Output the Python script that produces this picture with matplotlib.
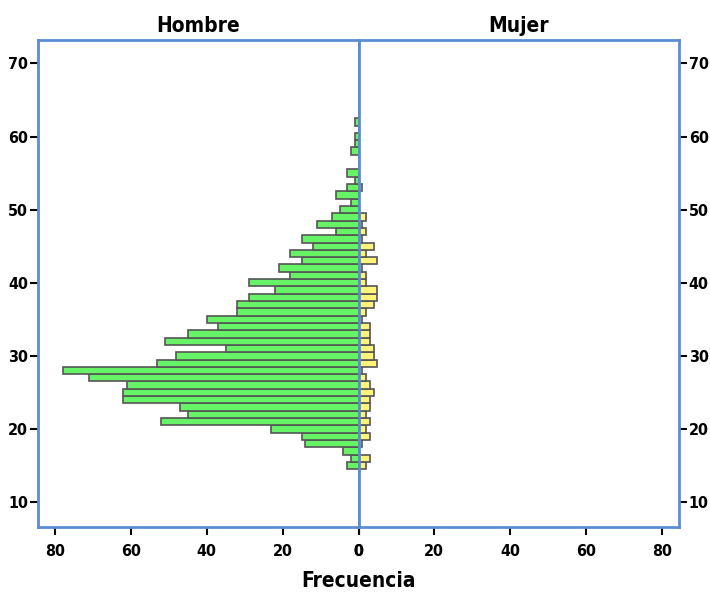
import matplotlib
matplotlib.use("Agg")
import matplotlib.pyplot as plt
import numpy as np

plt.rcParams['font.family'] = ['DejaVu Sans']
plt.rcParams['font.stretch'] = 'condensed'

# Age (one-year bins)
ages = list(range(15, 63))
# Frequencies, ages 15..62
hombre = [3, 2, 4, 14, 15, 23, 52, 45, 47, 62,
          62, 61, 71, 78, 53, 48, 35, 51, 45, 37,
          40, 32, 32, 29, 22, 29, 18, 21, 15, 18,
          12, 15, 6, 11, 7, 5, 2, 6, 3, 1,
          3, 0, 0, 2, 1, 1, 0, 1]
mujer = [2, 3, 0, 1, 3, 2, 3, 2, 3, 3,
         4, 3, 2, 1, 5, 4, 4, 3, 3, 3,
         1, 2, 4, 5, 5, 2, 2, 1, 5, 2,
         4, 1, 2, 1, 2, 0, 0, 0, 1, 0,
         0, 0, 0, 0, 0, 0, 0, 0]
panel_titles = ["Hombre", "Mujer"]
x_ticks = [0, 20, 40, 60, 80]
y_ticks = [10, 20, 30, 40, 50, 60, 70]
x_label = "Frecuencia"

green = "#66F466"
yellow = "#FFF47A"
edge = "#555555"
blue = "#5B8DD3"

fig = plt.figure(figsize=(7.10, 5.93), dpi=100)
L, R, B, T = 38/710, 679/710, 1-527/593, 1-40/593
mid = 358.5/710
axL = fig.add_axes([L, B, mid-L, T-B])
axR = fig.add_axes([mid, B, R-mid, T-B], sharey=axL)

xmax = 84.5
axL.barh(ages, hombre, height=1.0, color=green, edgecolor=edge, linewidth=1.2, zorder=2)
axR.barh(ages, mujer, height=1.0, color=yellow, edgecolor=edge, linewidth=1.2, zorder=2)
axL.set_xlim(xmax, 0)
axR.set_xlim(0, xmax)
axL.set_ylim(6.6, 73.2)

tick_font = dict(fontsize=11.5, fontweight='bold', fontstretch='condensed')
for ax in (axL, axR):
    for s in ax.spines.values():
        s.set_color(blue)
        s.set_linewidth(2)
    ax.set_xticks(x_ticks)
    ax.set_xticklabels([str(v) for v in x_ticks], **tick_font)
    ax.set_yticks(y_ticks)
    ax.tick_params(axis='both', direction='out', length=6, width=1.5, color='black', pad=6)
    ax.set_facecolor('white')

axL.set_yticklabels([str(v) for v in y_ticks], **tick_font)
axL.tick_params(axis='y', left=True, right=False, labelleft=True, labelright=False, pad=1)
axR.tick_params(axis='y', left=False, right=True, labelleft=False, labelright=True, pad=1)
axR.yaxis.set_ticks_position('right')
for lab in axR.get_yticklabels():
    lab.set_fontsize(11.5)
    lab.set_fontweight('bold')
    lab.set_fontstretch('condensed')

axL.set_title(panel_titles[0], fontsize=15, fontweight='bold', fontstretch='condensed', pad=6)
axR.set_title(panel_titles[1], fontsize=15, fontweight='bold', fontstretch='condensed', pad=6)
fig.text(mid, 0.004, x_label, ha='center', va='bottom', fontsize=15,
         fontweight='bold', fontstretch='condensed')

fig.savefig("out.png", dpi=100)
